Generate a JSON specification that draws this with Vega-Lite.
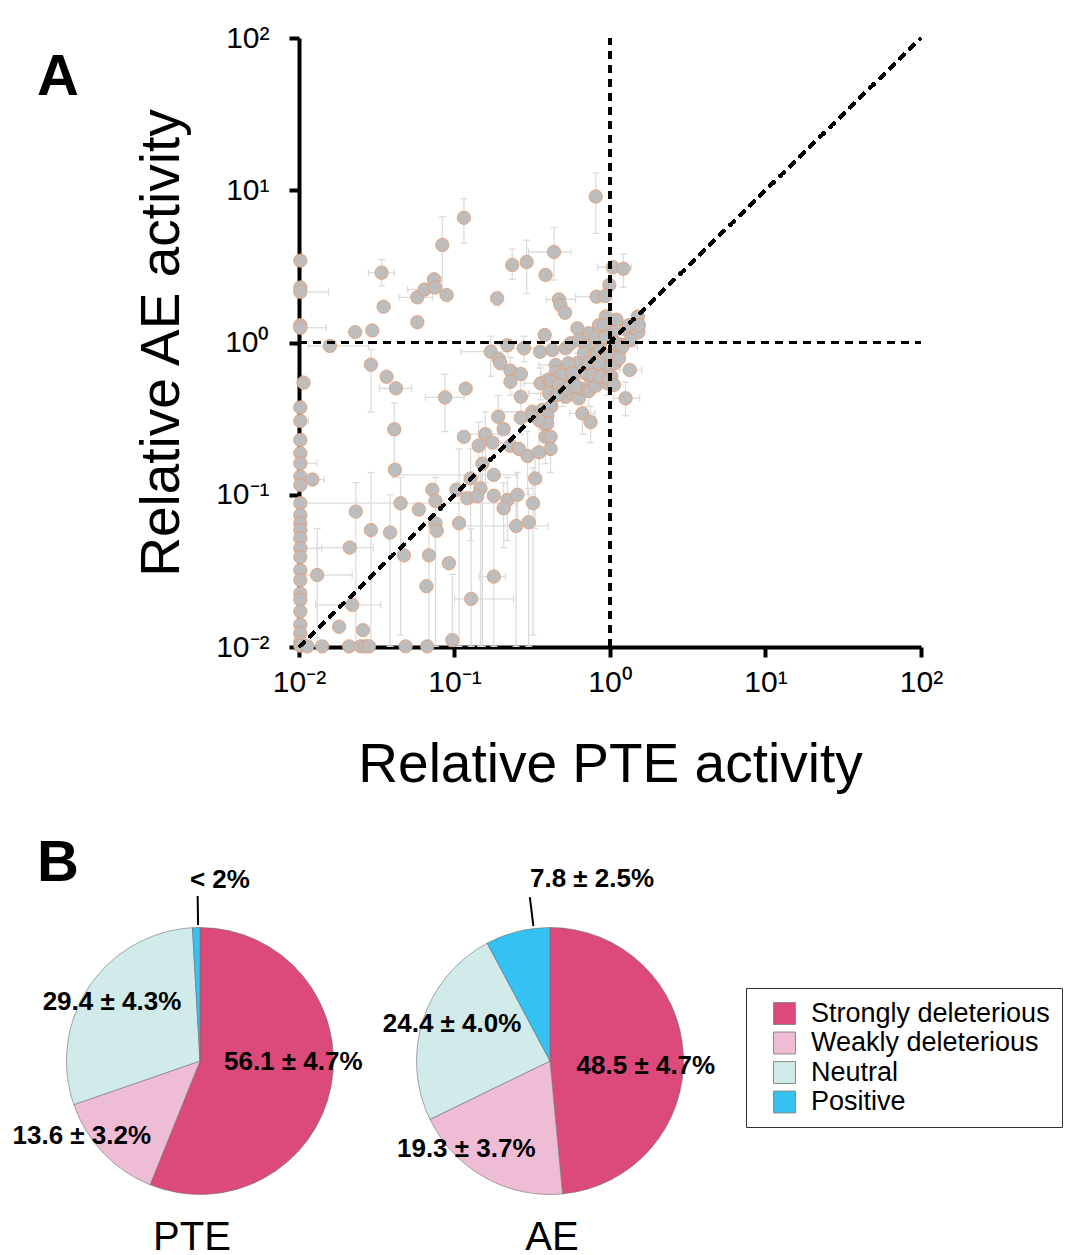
{
"$schema": "https://vega.github.io/schema/vega-lite/v6.json",
"padding": {"left": 12, "top": 23, "right": 0, "bottom": 0},
"background": "white",
"config": {
 "view": {"stroke": null},
 "font": "Liberation Sans",
 "axis": {"domainColor": "black", "domainWidth": 4, "tickColor": "black", "tickWidth": 4, "tickSize": 10, "labelFontSize": 30, "labelColor": "black", "labelFont": "Liberation Sans", "titleFont": "Liberation Sans", "titleFontSize": 55, "titleFontWeight": "normal", "titleColor": "black", "grid": false},
 "title": {"color": "black", "font": "Liberation Sans"}
},
"datasets": {
 "pts": [
  {"x":0.0102,"y":3.45},{"x":0.0102,"y":2.3},{"x":0.0102,"y":2.15,"xl":0.0102,"xh":0.0155},{"x":0.0102,"y":1.3},{"x":0.0102,"y":1.25,"xl":0.0102,"xh":0.015},
  {"x":0.0107,"y":0.545},{"x":0.0102,"y":0.375},{"x":0.0102,"y":0.305,"xl":0.0102,"xh":0.0115},{"x":0.0102,"y":0.229},{"x":0.0102,"y":0.187},
  {"x":0.0102,"y":0.161,"xl":0.0102,"xh":0.013},{"x":0.0102,"y":0.132},{"x":0.0122,"y":0.126,"xl":0.0105,"xh":0.0145},{"x":0.0102,"y":0.116},
  {"x":0.0102,"y":0.088,"xl":0.0102,"xh":0.25},{"x":0.0102,"y":0.0736},{"x":0.0102,"y":0.065},{"x":0.0102,"y":0.0586},{"x":0.0102,"y":0.0517},
  {"x":0.0102,"y":0.0445,"xl":0.0102,"xh":0.014},{"x":0.0102,"y":0.039},{"x":0.0102,"y":0.032},{"x":0.0102,"y":0.0275},{"x":0.0102,"y":0.0225},
  {"x":0.0102,"y":0.0204},{"x":0.0102,"y":0.0171},{"x":0.0102,"y":0.014},{"x":0.0102,"y":0.0123},{"x":0.0102,"y":0.0108},{"x":0.0102,"y":0.0102},
  {"x":0.0131,"y":0.0297,"xl":0.0105,"xh":0.022,"yl":0.0101,"yh":0.06},
  {"x":0.0113,"y":0.0101},{"x":0.0141,"y":0.0101},{"x":0.021,"y":0.0101},{"x":0.0249,"y":0.0101},{"x":0.0268,"y":0.0101},{"x":0.0282,"y":0.0101},{"x":0.0485,"y":0.0101},{"x":0.0668,"y":0.0101},
  {"x":0.034,"y":2.87,"xl":0.028,"xh":0.041,"yl":2.35,"yh":3.5},{"x":0.035,"y":1.72},{"x":0.023,"y":1.17},{"x":0.0296,"y":1.2},{"x":0.0577,"y":1.36},
  {"x":0.0577,"y":1.98,"xl":0.044,"xh":0.072},{"x":0.0643,"y":2.23,"xl":0.05,"xh":0.075},{"x":0.0738,"y":2.6,"xl":0.068,"xh":0.082},{"x":0.075,"y":2.3},
  {"x":0.089,"y":2.05},{"x":0.0835,"y":4.37,"yl":2.1,"yh":6.7},{"x":0.115,"y":6.6,"yl":4.5,"yh":8.8},
  {"x":0.81,"y":9.1,"yl":5.2,"yh":13},{"x":0.436,"y":3.93,"xl":0.3,"xh":0.56,"yl":2.57,"yh":5.7},{"x":0.235,"y":3.23,"yl":2.6,"yh":4.1},
  {"x":0.291,"y":3.38,"yl":2.1,"yh":4.7},{"x":0.385,"y":2.78},{"x":0.188,"y":1.95,"yl":1.75,"yh":2.15},{"x":0.47,"y":1.92,"xl":0.39,"xh":0.6},
  {"x":0.48,"y":1.76},{"x":0.514,"y":1.57},{"x":1.045,"y":3.12,"xl":0.83,"xh":1.37},{"x":1.22,"y":3.05,"yl":2.3,"yh":3.8},{"x":0.99,"y":2.39,"yl":1.9,"yh":2.9},
  {"x":0.82,"y":2.0,"xl":0.6,"xh":0.9},{"x":0.93,"y":2.02},{"x":1.51,"y":1.48},{"x":0.94,"y":1.48},{"x":1.1,"y":1.41},{"x":0.617,"y":1.24},{"x":0.85,"y":1.3},
  {"x":1.26,"y":1.22},{"x":0.38,"y":1.12},{"x":0.73,"y":1.15},{"x":1.05,"y":1.17},
  {"x":0.0158,"y":0.95,"xl":0.0115,"xh":0.028},{"x":0.029,"y":0.715,"yl":0.35,"yh":0.9},{"x":0.0366,"y":0.596},{"x":0.042,"y":0.5,"xl":0.033,"xh":0.053},
  {"x":0.0869,"y":0.436,"xl":0.065,"xh":0.115,"yl":0.26,"yh":0.62},{"x":0.041,"y":0.269,"yl":0.13,"yh":0.4},{"x":0.0414,"y":0.146},{"x":0.072,"y":0.108},
  {"x":0.103,"y":0.108},{"x":0.115,"y":0.24},{"x":0.118,"y":0.498},
  {"x":0.219,"y":0.96,"xl":0.17,"xh":0.27},{"x":0.28,"y":0.916,"xl":0.23,"xh":0.34,"yl":0.75,"yh":1.1},{"x":0.355,"y":0.87},
  {"x":0.171,"y":0.87,"xl":0.11,"xh":0.22,"yl":0.6,"yh":1.1},{"x":0.193,"y":0.776},{"x":0.197,"y":0.73},{"x":0.229,"y":0.653,"yl":0.45,"yh":0.8},
  {"x":0.267,"y":0.621},{"x":0.229,"y":0.552},{"x":0.267,"y":0.44,"yl":0.25,"yh":0.6},{"x":0.448,"y":0.711,"xl":0.35,"xh":0.56},{"x":0.448,"y":0.64},
  {"x":0.358,"y":0.539,"xl":0.28,"xh":0.45,"yl":0.42,"yh":0.68},{"x":0.403,"y":0.57},{"x":0.506,"y":0.596},{"x":0.494,"y":0.498,"xl":0.4,"xh":0.6,"yl":0.38,"yh":0.62},
  {"x":0.52,"y":0.44},{"x":0.573,"y":0.46},{"x":0.63,"y":0.43},{"x":0.65,"y":0.498},{"x":0.617,"y":0.73,"xl":0.5,"xh":0.75,"yl":0.6,"yh":0.85},
  {"x":0.75,"y":0.58},{"x":0.73,"y":0.48,"yl":0.38,"yh":0.6},{"x":0.81,"y":0.52},{"x":0.7,"y":0.89},{"x":0.77,"y":0.82},{"x":0.89,"y":0.8},
  {"x":0.94,"y":0.71,"xl":0.8,"xh":1.1},{"x":0.85,"y":0.64},{"x":0.96,"y":0.54,"yl":0.45,"yh":0.65},{"x":1.08,"y":0.73},{"x":1.13,"y":0.84},
  {"x":1.34,"y":0.66,"xl":1.15,"xh":1.6},{"x":1.26,"y":0.43,"xl":1.05,"xh":1.55,"yl":0.33,"yh":0.55},{"x":0.89,"y":1.04},{"x":1.52,"y":1.17},
  {"x":0.54,"y":0.73},{"x":0.69,"y":0.63},{"x":0.86,"y":0.93},{"x":1.0,"y":0.82},{"x":1.17,"y":0.97},{"x":0.58,"y":0.56},{"x":1.02,"y":0.6},
  {"x":1.535,"y":1.3},{"x":1.324,"y":1.3},{"x":0.914,"y":1.3},{"x":0.426,"y":0.893},{"x":0.519,"y":0.916},{"x":0.558,"y":0.988},{"x":0.632,"y":1.04},
  {"x":0.698,"y":0.937},{"x":0.809,"y":1.07,"xl":0.65,"xh":0.95},{"x":0.937,"y":1.09},{"x":1.088,"y":0.988},{"x":1.2,"y":0.937,"xl":1.0,"xh":1.5},{"x":1.358,"y":1.04},
  {"x":0.681,"y":0.85},{"x":1.143,"y":0.787},{"x":0.733,"y":0.73},{"x":0.849,"y":0.73},{"x":0.493,"y":0.612,"xl":0.36,"xh":0.6},{"x":0.573,"y":0.628},
  {"x":0.769,"y":0.612},{"x":0.871,"y":0.596},{"x":0.986,"y":0.568},{"x":1.061,"y":0.526},{"x":0.416,"y":0.553},{"x":0.47,"y":0.526},{"x":0.531,"y":0.5},
  {"x":0.601,"y":0.513},{"x":0.406,"y":0.463,"xl":0.3,"xh":0.5,"yl":0.35,"yh":0.55},{"x":0.458,"y":0.452},{"x":0.316,"y":0.351,"xl":0.2,"xh":0.4},{"x":0.367,"y":0.361},
  {"x":0.386,"y":0.287,"yl":0.2,"yh":0.36},
  {"x":0.664,"y":0.342,"xl":0.55,"xh":0.8,"yl":0.25,"yh":0.45},{"x":0.75,"y":0.3,"yl":0.22,"yh":0.38},{"x":0.42,"y":0.38},{"x":0.395,"y":0.33},
  {"x":0.395,"y":0.295},{"x":0.35,"y":0.31},{"x":0.31,"y":0.33},{"x":0.267,"y":0.32},{"x":0.191,"y":0.325,"yl":0.2,"yh":0.45},{"x":0.207,"y":0.27},
  {"x":0.158,"y":0.25,"xl":0.12,"xh":0.2,"yl":0.12,"yh":0.35},{"x":0.175,"y":0.22,"xl":0.14,"xh":0.22},{"x":0.143,"y":0.21,"yl":0.1,"yh":0.3},
  {"x":0.229,"y":0.21},{"x":0.26,"y":0.2},{"x":0.295,"y":0.18,"yl":0.1,"yh":0.26},{"x":0.35,"y":0.19,"yl":0.12,"yh":0.28},{"x":0.385,"y":0.24,"yl":0.16,"yh":0.32},
  {"x":0.415,"y":0.24},{"x":0.415,"y":0.2,"yl":0.14,"yh":0.28},{"x":0.151,"y":0.16,"yl":0.0101,"yh":0.25},{"x":0.179,"y":0.135,"xl":0.04,"xh":0.25},
  {"x":0.33,"y":0.128,"yl":0.06,"yh":0.2},{"x":0.127,"y":0.128,"yl":0.05,"yh":0.2},{"x":0.147,"y":0.11,"yl":0.0101,"yh":0.16},
  {"x":0.0232,"y":0.0775,"yl":0.0101,"yh":0.12},{"x":0.029,"y":0.0586,"yl":0.0101,"yh":0.14},{"x":0.0385,"y":0.0564,"yl":0.0101,"yh":0.1},
  {"x":0.045,"y":0.088,"yl":0.012,"yh":0.13},{"x":0.059,"y":0.08},{"x":0.0755,"y":0.091,"yl":0.0101,"yh":0.13},{"x":0.0755,"y":0.065},{"x":0.077,"y":0.058},
  {"x":0.107,"y":0.065,"yl":0.0101,"yh":0.2},{"x":0.0473,"y":0.04},{"x":0.0685,"y":0.04,"yl":0.0101,"yh":0.07},{"x":0.092,"y":0.0355},
  {"x":0.0212,"y":0.045,"xl":0.013,"xh":0.03},{"x":0.066,"y":0.0251},{"x":0.022,"y":0.0189,"xl":0.0128,"xh":0.0335},{"x":0.0181,"y":0.0136},
  {"x":0.0258,"y":0.0129},{"x":0.0968,"y":0.0111,"yl":0.0101,"yh":0.03},
  {"x":0.121,"y":0.095},{"x":0.14,"y":0.098},{"x":0.179,"y":0.0985},{"x":0.219,"y":0.0925,"yl":0.05,"yh":0.13},{"x":0.254,"y":0.1,"yl":0.06,"yh":0.14},
  {"x":0.207,"y":0.0815,"yl":0.045,"yh":0.12},{"x":0.32,"y":0.088,"yl":0.012,"yh":0.15},{"x":0.249,"y":0.0624,"xl":0.11,"xh":0.4,"yl":0.0101,"yh":0.1},
  {"x":0.3,"y":0.066,"yl":0.0101,"yh":0.11},{"x":0.179,"y":0.029,"xl":0.144,"xh":0.213,"yl":0.0101,"yh":0.1},{"x":0.128,"y":0.0207,"xl":0.1,"xh":0.24,"yl":0.0101,"yh":0.06}
 ],
 "pies": [
  {"chart":"PTE","cat":"Strongly deleterious","ord":1,"v":56.1,"label":"56.1 ± 4.7%"},
  {"chart":"PTE","cat":"Weakly deleterious","ord":2,"v":13.6,"label":"13.6 ± 3.2%"},
  {"chart":"PTE","cat":"Neutral","ord":3,"v":29.4,"label":"29.4 ± 4.3%"},
  {"chart":"PTE","cat":"Positive","ord":4,"v":0.9,"label":"< 2%"},
  {"chart":"AE","cat":"Strongly deleterious","ord":1,"v":48.5,"label":"48.5 ± 4.7%"},
  {"chart":"AE","cat":"Weakly deleterious","ord":2,"v":19.3,"label":"19.3 ± 3.7%"},
  {"chart":"AE","cat":"Neutral","ord":3,"v":24.4,"label":"24.4 ± 4.0%"},
  {"chart":"AE","cat":"Positive","ord":4,"v":7.8,"label":"7.8 ± 2.5%"}
 ]
},
"spacing": 274,
"bounds": "flush",
"center": true,
"vconcat": [
 {
  "width": 622, "height": 609,
  "data": {"name": "pts"},
  "title": {"text": "A", "anchor": "start", "frame": "group", "dx": -262, "dy": 84, "offset": 0, "fontSize": 58, "fontWeight": "bold", "font": "Liberation Sans", "color": "black"},
  "layer": [
   {"transform": [{"filter": "isValid(datum.yl)"}],
    "mark": {"type": "rule", "color": "#dcdcdc", "strokeWidth": 1.3},
    "encoding": {
     "x": {"field": "x", "type": "quantitative", "title": "Relative PTE activity", "scale": {"type": "log", "domain": [0.01, 100], "nice": false},
           "axis": {"values": [0.01, 0.1, 1, 10, 100], "labelExpr": "datum.value < 0.05 ? '10\u207b\u00b2' : datum.value < 0.5 ? '10\u207b\u00b9' : datum.value < 5 ? '10\u2070' : datum.value < 50 ? '10\u00b9' : '10\u00b2'", "labelFlush": false, "labelOverlap": false, "labelPadding": 10, "titlePadding": 41}},
     "y": {"field": "yl", "type": "quantitative", "title": "Relative AE activity", "scale": {"type": "log", "domain": [0.01, 100], "nice": false},
           "axis": {"values": [0.01, 0.1, 1, 10, 100], "labelExpr": "datum.value < 0.05 ? '10\u207b\u00b2' : datum.value < 0.5 ? '10\u207b\u00b9' : datum.value < 5 ? '10\u2070' : datum.value < 50 ? '10\u00b9' : '10\u00b2'", "labelFlush": false, "labelOverlap": false, "labelPadding": 20, "titlePadding": 25}},
     "y2": {"field": "yh"}
    }},
   {"transform": [{"filter": "isValid(datum.yl)"}],
    "mark": {"type": "tick", "orient": "horizontal", "size": 7, "thickness": 1.3, "color": "#dcdcdc", "opacity": 1},
    "encoding": {"x": {"field": "x", "type": "quantitative", "title": "Relative PTE activity"}, "y": {"field": "yl", "type": "quantitative", "title": "Relative AE activity"}}},
   {"transform": [{"filter": "isValid(datum.yh)"}],
    "mark": {"type": "tick", "orient": "horizontal", "size": 7, "thickness": 1.3, "color": "#dcdcdc", "opacity": 1},
    "encoding": {"x": {"field": "x", "type": "quantitative", "title": "Relative PTE activity"}, "y": {"field": "yh", "type": "quantitative", "title": "Relative AE activity"}}},
   {"transform": [{"filter": "isValid(datum.xl)"}],
    "mark": {"type": "rule", "color": "#dcdcdc", "strokeWidth": 1.3},
    "encoding": {"x": {"field": "xl", "type": "quantitative", "title": "Relative PTE activity"}, "x2": {"field": "xh"}, "y": {"field": "y", "type": "quantitative", "title": "Relative AE activity"}}},
   {"transform": [{"filter": "isValid(datum.xl)"}],
    "mark": {"type": "tick", "orient": "vertical", "size": 7, "thickness": 1.3, "color": "#dcdcdc", "opacity": 1},
    "encoding": {"x": {"field": "xl", "type": "quantitative", "title": "Relative PTE activity"}, "y": {"field": "y", "type": "quantitative", "title": "Relative AE activity"}}},
   {"transform": [{"filter": "isValid(datum.xh)"}],
    "mark": {"type": "tick", "orient": "vertical", "size": 7, "thickness": 1.3, "color": "#dcdcdc", "opacity": 1},
    "encoding": {"x": {"field": "xh", "type": "quantitative", "title": "Relative PTE activity"}, "y": {"field": "y", "type": "quantitative", "title": "Relative AE activity"}}},
   {"mark": {"type": "circle", "size": 180, "fill": "#bdbdbd", "stroke": "#e49a70", "strokeWidth": 0.8, "opacity": 1, "fillOpacity": 1},
    "encoding": {"x": {"field": "x", "type": "quantitative", "title": "Relative PTE activity"}, "y": {"field": "y", "type": "quantitative", "title": "Relative AE activity"}}},
   {"mark": {"type": "rule", "color": "black", "strokeWidth": 3, "strokeDash": [8, 6]},
    "encoding": {"x": {"datum": 1, "type": "quantitative", "title": "Relative PTE activity"}, "y": {"datum": 0.01, "type": "quantitative", "title": "Relative AE activity"}, "y2": {"datum": 100}}},
   {"mark": {"type": "rule", "color": "black", "strokeWidth": 3, "strokeDash": [8, 6]},
    "encoding": {"y": {"datum": 1, "type": "quantitative", "title": "Relative AE activity"}, "x": {"datum": 0.01, "type": "quantitative", "title": "Relative PTE activity"}, "x2": {"datum": 100}}},
   {"mark": {"type": "rule", "color": "black", "strokeWidth": 3, "strokeDash": [8, 6]},
    "encoding": {"x": {"datum": 0.01, "type": "quantitative", "title": "Relative PTE activity"}, "y": {"datum": 0.01, "type": "quantitative", "title": "Relative AE activity"}, "x2": {"datum": 100}, "y2": {"datum": 100}}}
  ]
 },
 {
  "width": 1170, "height": 280,
  "data": {"name": "pies"},
  "title": {"text": "B", "anchor": "start", "frame": "group", "dx": 12, "dy": 27, "offset": 0, "fontSize": 58, "fontWeight": "bold", "font": "Liberation Sans", "color": "black"},
  "transform": [
   {"stack": "v", "groupby": ["chart"], "sort": [{"field": "ord", "order": "ascending"}], "as": ["s0", "s1"]},
   {"calculate": "(datum.s0+datum.s1)/2", "as": "mid"},
   {"calculate": "(datum.s0+3*datum.s1)/4", "as": "lead"}
  ],
  "encoding": {
   "x": {"field": "chart", "type": "nominal", "title": null,
         "scale": {"type": "band", "domain": ["PTE", "AE"], "paddingInner": 0, "paddingOuter": 0.6714, "align": 0},
         "axis": {"domain": false, "ticks": false, "tickSize": 0, "labelFontSize": 40, "labelFont": "Liberation Sans", "labelColor": "black", "labelPadding": 16, "labelAngle": 0, "title": null,
                  "labelOffset": {"condition": {"test": "datum.value == 'PTE'", "value": -8}, "value": 2}}}
  },
  "layer": [
   {"mark": {"type": "arc", "radius": 133.5, "stroke": "#6e6e6e", "strokeWidth": 0.6},
    "encoding": {"theta": {"field": "s0", "type": "quantitative", "stack": null, "scale": {"type": "linear", "domain": [0, 100], "range": [0, 6.283185307179586]}}, "theta2": {"field": "s1"},
     "color": {"field": "cat", "type": "nominal", "scale": {"domain": ["Strongly deleterious", "Weakly deleterious", "Neutral", "Positive"], "range": ["#dc4a7c", "#efbcd6", "#d1ebea", "#35c1f1"]},
      "legend": {"orient": "none", "legendX": 721, "legendY": 950, "title": null, "symbolType": "square", "symbolSize": 480, "symbolStrokeColor": "#8a8a8a", "symbolStrokeWidth": 1, "symbolOpacity": 1, "labelFontSize": 27, "labelFont": "Liberation Sans", "labelColor": "black", "labelLimit": 0, "strokeColor": "#333333", "padding": 12, "symbolOffset": 13, "labelOffset": 13, "rowPadding": 1.5}}}},
   {"transform": [{"filter": "datum.ord == 4"}],
    "mark": {"type": "arc", "radius": 165, "radius2": 136, "stroke": "black", "strokeWidth": 2, "fill": "black"},
    "encoding": {"theta": {"field": "lead", "type": "quantitative", "stack": null}, "theta2": {"field": "lead"}}},
   {"transform": [{"filter": "datum.chart == 'PTE' && datum.ord == 1"}],
    "mark": {"type": "text", "radius": 95, "dy": -17, "fontSize": 26, "fontWeight": "bold", "font": "Liberation Sans", "color": "black", "align": "center", "baseline": "middle"},
    "encoding": {"theta": {"field": "mid", "type": "quantitative", "stack": null}, "text": {"field": "label"}}},
   {"transform": [{"filter": "datum.chart == 'PTE' && datum.ord == 2"}],
    "mark": {"type": "text", "radius": 141, "dx": -16, "dy": -22, "fontSize": 26, "fontWeight": "bold", "font": "Liberation Sans", "color": "black", "align": "center", "baseline": "middle"},
    "encoding": {"theta": {"field": "mid", "type": "quantitative", "stack": null}, "text": {"field": "label"}}},
   {"transform": [{"filter": "datum.chart == 'PTE' && datum.ord == 3"}],
    "mark": {"type": "text", "radius": 106, "fontSize": 26, "fontWeight": "bold", "font": "Liberation Sans", "color": "black", "align": "center", "baseline": "middle"},
    "encoding": {"theta": {"field": "mid", "type": "quantitative", "stack": null}, "text": {"field": "label"}}},
   {"transform": [{"filter": "datum.chart == 'PTE' && datum.ord == 4"}],
    "mark": {"type": "text", "radius": 181, "dx": -5, "fontSize": 26, "fontWeight": "bold", "font": "Liberation Sans", "color": "black", "align": "left", "baseline": "middle"},
    "encoding": {"theta": {"field": "mid", "type": "quantitative", "stack": null}, "text": {"field": "label"}}},
   {"transform": [{"filter": "datum.chart == 'AE' && datum.ord == 1"}],
    "mark": {"type": "text", "radius": 96, "dy": 9.5, "fontSize": 26, "fontWeight": "bold", "font": "Liberation Sans", "color": "black", "align": "center", "baseline": "middle"},
    "encoding": {"theta": {"field": "mid", "type": "quantitative", "stack": null}, "text": {"field": "label"}}},
   {"transform": [{"filter": "datum.chart == 'AE' && datum.ord == 2"}],
    "mark": {"type": "text", "radius": 101.5, "dx": -34, "fontSize": 26, "fontWeight": "bold", "font": "Liberation Sans", "color": "black", "align": "center", "baseline": "middle"},
    "encoding": {"theta": {"field": "mid", "type": "quantitative", "stack": null}, "text": {"field": "label"}}},
   {"transform": [{"filter": "datum.chart == 'AE' && datum.ord == 3"}],
    "mark": {"type": "text", "radius": 103, "dy": -5, "fontSize": 26, "fontWeight": "bold", "font": "Liberation Sans", "color": "black", "align": "center", "baseline": "middle"},
    "encoding": {"theta": {"field": "mid", "type": "quantitative", "stack": null}, "text": {"field": "label"}}},
   {"transform": [{"filter": "datum.chart == 'AE' && datum.ord == 4"}],
    "mark": {"type": "text", "radius": 188, "dx": 25.6, "fontSize": 26, "fontWeight": "bold", "font": "Liberation Sans", "color": "black", "align": "left", "baseline": "middle"},
    "encoding": {"theta": {"field": "mid", "type": "quantitative", "stack": null}, "text": {"field": "label"}}}
  ]
 }
]
}
